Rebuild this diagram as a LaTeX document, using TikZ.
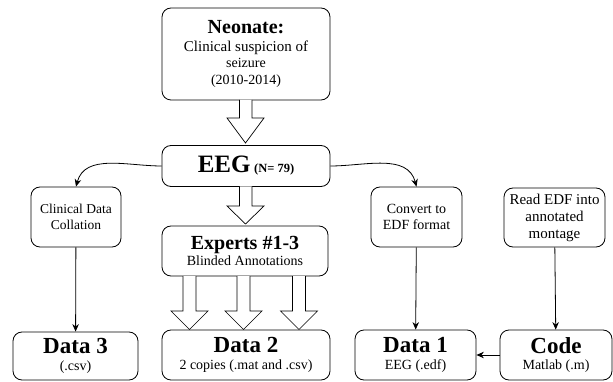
\documentclass[tikz,border=0pt]{standalone}
\usepackage{fontspec}
\setmainfont{Liberation Serif}
\usetikzlibrary{arrows.meta}
\begin{document}
\begin{tikzpicture}[x=1pt, y=-1pt, line width=0.8pt,
    box/.style={draw, rounded corners=9pt, align=center, inner sep=1pt, font=\fontsize{14}{16.5}\selectfont},
    hollow/.style={draw, fill=white, line width=0.7pt},
    link/.style={-{Stealth[length=7.5pt, width=6.5pt]}}]
  \useasboundingbox (0, 0) rectangle (613, 382);
  % boxes
  \node[box, minimum width=168, minimum height=92] (neo) at (246, 54)
    {\fontsize{20}{22}\selectfont\bfseries Neonate:\\[1pt]
     \fontsize{15}{17.5}\selectfont\mdseries Clinical suspicion of\\ seizure\\ (2010-2014)};
  \node[box, minimum width=168, minimum height=41] (eeg) at (246, 166)
    {{\fontsize{25}{27}\selectfont\bfseries EEG} {\fontsize{12.5}{14}\selectfont\bfseries (N= 79)}};
  \node[box, minimum width=166, minimum height=50] (exp) at (245, 251)
    {{\fontsize{20}{22}\selectfont\bfseries Experts \#1-3}\\ Blinded Annotations};
  \node[box, minimum width=168, minimum height=50] (dat2) at (246, 355)
    {{\fontsize{23}{25}\selectfont\bfseries Data 2}\\ 2 copies (.mat and .csv)};
  \node[box, minimum width=90, minimum height=60, font=\fontsize{13.5}{16}\selectfont] (clin) at (76, 217)
    {Clinical Data\\ Collation};
  \node[box, minimum width=125, minimum height=48] (dat3) at (75.5, 356)
    {{\fontsize{23}{25}\selectfont\bfseries Data 3}\\ (.csv)};
  \node[box, minimum width=91, minimum height=60] (conv) at (416.5, 217)
    {Convert to\\ EDF format};
  \node[box, minimum width=121, minimum height=50] (dat1) at (415.5, 355)
    {{\fontsize{23}{25}\selectfont\bfseries Data 1}\\ EEG (.edf)};
  \node[box, minimum width=101, minimum height=59, font=\fontsize{15}{17}\selectfont] (read) at (554.5, 217.5)
    {Read EDF into\\ annotated\\ montage};
  \node[box, minimum width=112, minimum height=50] (code) at (556, 355)
    {{\fontsize{23}{25}\selectfont\bfseries Code}\\ Matlab (.m)};
  % hollow arrows
  \draw[hollow] (239.5, 100) -- (239.5, 118) -- (227, 118) -- (245.5, 143) -- (264, 118) -- (252, 118) -- (252, 100);
  \draw[hollow] (239.5, 186.5) -- (239.5, 206) -- (227, 206) -- (245.5, 224) -- (264, 206) -- (252, 206) -- (252, 186.5);
  \foreach \ax in {189.5, 243.5, 299} {
    \draw[hollow] (\ax-6.5, 276) -- (\ax-6.5, 311) -- (\ax-18.5, 311) -- (\ax, 329.5)
      -- (\ax+18.5, 311) -- (\ax+6.5, 311) -- (\ax+6.5, 276);
  }
  % connectors
  \draw[link] (eeg.west) to[out=180, in=75] (clin.north);
  \draw[link] (eeg.east) to[out=0, in=105] (conv.north);
  \draw[link] (clin) -- (dat3);
  \draw[link] (conv) -- (dat1);
  \draw[link] (read) -- (code);
  \draw[link] (code) -- (dat1);
\end{tikzpicture}
\end{document}
